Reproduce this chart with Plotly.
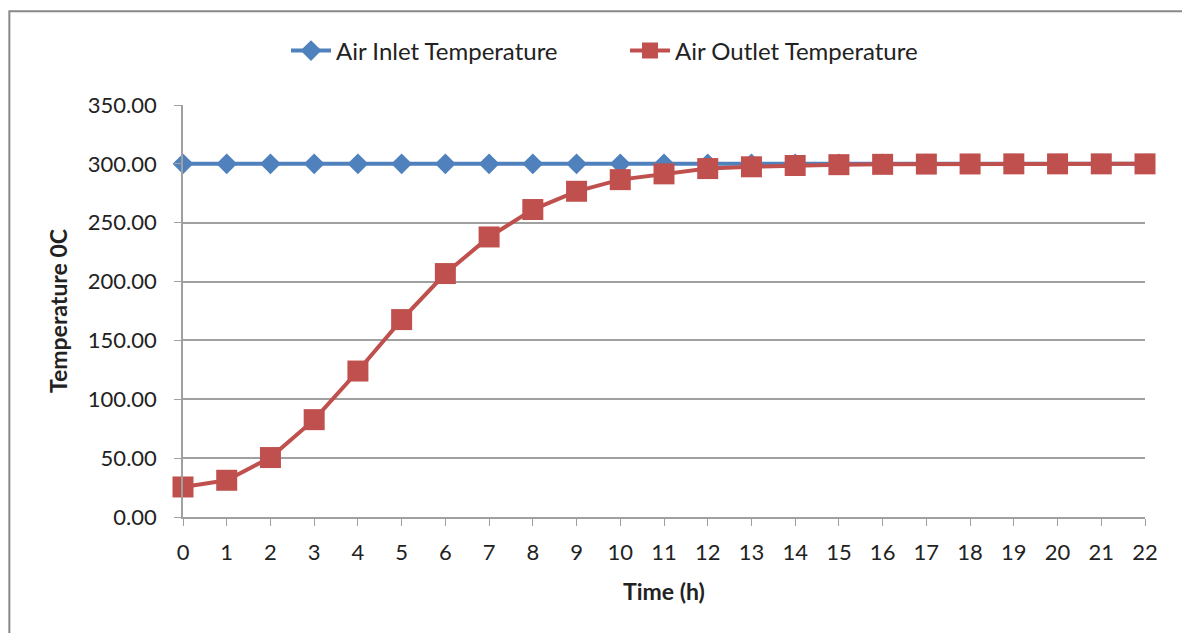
import plotly.graph_objects as go

time_h = list(range(0, 23))
air_inlet = [300.0] * 23
air_outlet = [25.5, 31.2, 50.5, 82.7, 124.0, 167.7, 206.8, 237.9, 261.2, 276.7, 286.6,
              291.5, 296.0, 297.5, 298.6, 299.3, 299.6, 299.8, 299.9, 300.0, 300.0, 300.0, 300.0]
y_ticks = [0, 50, 100, 150, 200, 250, 300, 350]

FONT = "Lato"
W, H = 1182, 633
L, R, T, B = 182.7, 37, 104.7, 116.3

fig = go.Figure()
fig.add_trace(go.Scatter(
    x=time_h, y=air_inlet, name="Air Inlet Temperature", mode="lines+markers",
    line=dict(color="#4F81BD", width=4),
    marker=dict(symbol="diamond", size=16, color="#4F81BD"),
    cliponaxis=False))
fig.add_trace(go.Scatter(
    x=time_h, y=air_outlet, name="Air Outlet Temperature", mode="lines+markers",
    line=dict(color="#C0504D", width=4),
    marker=dict(symbol="square", size=21, color="#C0504D"),
    cliponaxis=False))

fig.update_layout(
    width=W, height=H,
    margin=dict(l=L, r=R, t=T, b=B, pad=0),
    paper_bgcolor="white", plot_bgcolor="white",
    font=dict(family=FONT, size=22, color="#222222"),
    showlegend=True,
    legend=dict(orientation="h", xref="container", yref="container",
                x=(336 - 50) / W, y=1 - 51 / H, xanchor="left", yanchor="middle",
                font=dict(size=24), itemwidth=40, entrywidth=284, entrywidthmode="pixels"),
    xaxis=dict(range=[0, 22], tickmode="array", tickvals=time_h,
               ticktext=[str(t) for t in time_h],
               showgrid=False, showline=True, linecolor="#A0A0A0", linewidth=1.5,
               ticks="outside", ticklen=7, tickcolor="#A0A0A0", ticklabelstandoff=8,
               zeroline=False,
               title=dict(text="<b>Time (h)</b>", font=dict(size=23), standoff=20)),
    yaxis=dict(range=[0, 350], tickmode="array", tickvals=y_ticks,
               ticktext=[f"{v:.2f}" for v in y_ticks],
               showgrid=True, gridcolor="#A0A0A0", gridwidth=1.5,
               showline=True, linecolor="#A0A0A0", linewidth=1.5,
               ticks="outside", ticklen=7, tickcolor="#A0A0A0", ticklabelstandoff=13,
               zeroline=False,
               title=dict(text="<b>Temperature 0C</b>", font=dict(size=23), standoff=14)),
)

fig.add_shape(type="rect", xref="paper", yref="paper",
              x0=(9 - L) / (W - L - R), x1=(W + 20 - L) / (W - L - R),
              y0=-(B + 20) / (H - T - B), y1=1 + (T - 11) / (H - T - B),
              line=dict(color="#888888", width=2), layer="below")

fig.write_html("out.html")
